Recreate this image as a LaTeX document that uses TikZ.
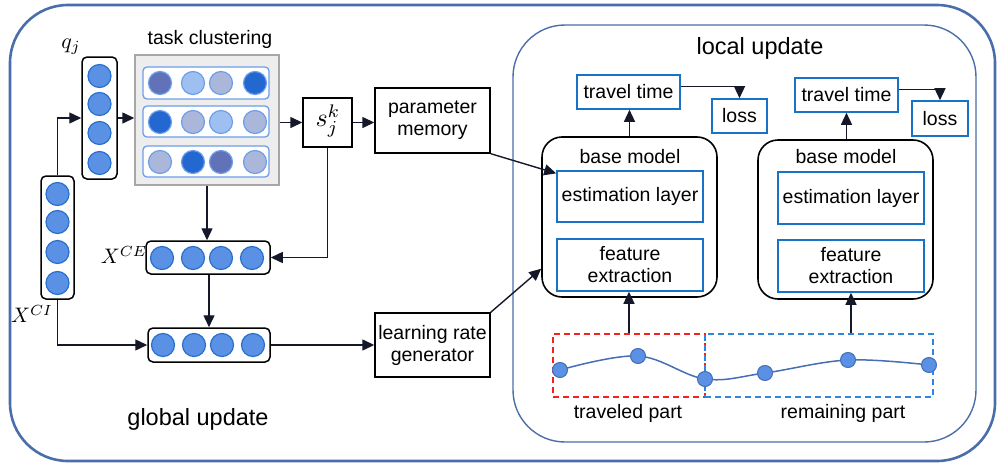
\documentclass[tikz,border=0pt]{standalone}
\usepackage{fontspec}
\setmainfont{Liberation Sans}
\usetikzlibrary{arrows.meta,calc}
\definecolor{frameblue}{RGB}{74,110,170}
\definecolor{boxblue}{RGB}{24,114,200}
\definecolor{dotfill}{RGB}{90,145,228}
\definecolor{dotdraw}{RGB}{40,112,205}
\definecolor{cslate}{RGB}{98,114,184}
\definecolor{clight}{RGB}{158,192,240}
\definecolor{clav}{RGB}{170,182,218}
\definecolor{cstrong}{RGB}{35,103,209}
\definecolor{cring}{RGB}{109,158,235}
\definecolor{arrowink}{RGB}{20,24,40}
\definecolor{trajred}{RGB}{250,30,30}
\definecolor{trajblue}{RGB}{46,134,222}
\definecolor{curveblue}{RGB}{70,110,180}
\tikzset{
  every node/.style={font=\fontsize{19.5}{22}\selectfont},
  bigtext/.style={font=\fontsize{23.5}{26}\selectfont},
  arr/.style={draw=arrowink, line width=1.4pt, -{Triangle[length=12pt,width=11pt]}},
  plainbox/.style={draw=black, line width=1.4pt, inner sep=0pt, align=center},
  bluebox/.style={draw=boxblue, line width=1.6pt, inner sep=0pt, align=center},
  vecbox/.style={draw=black, line width=1.5pt, rounded corners=5pt, inner sep=0pt},
  modelbox/.style={draw=black, line width=1.6pt, rounded corners=20pt, inner sep=0pt},
  rowbox/.style={draw=cring, fill=white, line width=1.3pt, rounded corners=4pt, inner sep=0pt},
  dot/.style={circle, minimum size=23pt, inner sep=0pt, fill=dotfill, draw=dotdraw, line width=1.2pt},
  cdot/.style={circle, minimum size=23pt, inner sep=0pt, fill=#1, draw=cring, line width=1.2pt},
  tdot/.style={circle, minimum size=15pt, inner sep=0pt, fill=dotfill, draw=curveblue, line width=1pt},
  mathlab/.style={inner sep=0.5pt, font=\fontsize{10}{12}\selectfont, scale=#1}
}
\begin{document}
\begin{tikzpicture}[x=1pt,y=-1pt]
\useasboundingbox (0,0) rectangle (997,466);

% outer frame and local-update frame
\draw[frameblue, line width=2.6pt, rounded corners=58pt] (10,5) rectangle (995,461);
\draw[frameblue, line width=1.4pt, rounded corners=52pt] (513,25) rectangle (976,442);
\node[bigtext] (lu) at (760,48) {local update};
\node[bigtext] (gu) at (198,419) {global update};

% query vector q_j
\node[vecbox, minimum width=35pt, minimum height=122pt] (qj) at (99.5,118) {};
\foreach \i/\y in {1/76,2/104,3/133,4/163} \node[dot] (q\i) at (99.5,\y) {};
\node[mathlab=2.2] (qlab) at (71,47) {$q_j$};

% input vector X^{CI}
\node[vecbox, minimum width=33pt, minimum height=123pt] (xci) at (57.5,237.5) {};
\foreach \i/\y in {1/194,2/222,3/252,4/283} \node[dot] (ci\i) at (57.5,\y) {};
\node[mathlab=2.1] (cilab) at (32,314) {$X^{CI}$};

% task clustering
\node[draw=gray!70, fill=gray!14, line width=1.4pt, minimum width=144pt, minimum height=130pt, inner sep=0pt] (tc) at (207,120) {};
\node (tclab) at (210,39) {task clustering};
\node[rowbox, minimum width=126pt, minimum height=32pt] (r1) at (206,83) {};
\node[rowbox, minimum width=126pt, minimum height=31pt] (r2) at (206,121.5) {};
\node[rowbox, minimum width=126pt, minimum height=31pt] (r3) at (206,161.5) {};
\foreach \x/\c [count=\k] in {160/cslate,193/clight,221/clav,255/cstrong} \node[cdot=\c] (a\k) at (\x,83) {};
\foreach \x/\c [count=\k] in {160/cstrong,193/clav,221/clight,255/clav} \node[cdot=\c] (b\k) at (\x,122) {};
\foreach \x/\c [count=\k] in {160/clav,193/cstrong,221/cslate,255/clav} \node[cdot=\c] (c\k) at (\x,162) {};

% cluster assignment and parameter memory
\node[plainbox, minimum width=49pt, minimum height=49pt] (s) at (327.5,122.5) {};
\node[mathlab=2.6] (slab) at (328,121) {$s_j^k$};
\node[plainbox, minimum width=115pt, minimum height=65pt] (pm) at (432.5,120.5) {parameter\\memory};

% enhanced vector X^{CE}
\node[vecbox, minimum width=124pt, minimum height=33pt] (xce) at (208,257.5) {};
\foreach \x [count=\k] in {162,193,221,252} \node[dot] (e\k) at (\x,258) {};
\node[mathlab=2.1] (celab) at (124,255) {$X^{CE}$};

% combined vector
\node[vecbox, minimum width=122pt, minimum height=34pt] (cmb) at (209,345) {};
\foreach \x [count=\k] in {163,194,222,253} \node[dot] (m\k) at (\x,345) {};

\node[plainbox, minimum width=115pt, minimum height=64pt] (lrg) at (432.5,345) {learning rate\\generator};

% base models
\node[modelbox, minimum width=175pt, minimum height=160pt] (bm1) at (629.5,217) {};
\node (bm1lab) at (630,157) {base model};
\node[bluebox, minimum width=146pt, minimum height=51pt] (el1) at (630,196.5) {estimation layer};
\node[bluebox, minimum width=146pt, minimum height=52pt] (fe1) at (630,265) {feature\\extraction};
\node[bluebox, minimum width=103pt, minimum height=34pt] (tt1) at (628.5,92) {travel time};
\node[bluebox, minimum width=55pt, minimum height=34pt] (loss1) at (739.5,116) {loss};

\node[modelbox, minimum width=175pt, minimum height=159pt] (bm2) at (845.5,219.5) {};
\node (bm2lab) at (846,157) {base model};
\node[bluebox, minimum width=146pt, minimum height=52pt] (el2) at (851,198) {estimation layer};
\node[bluebox, minimum width=146pt, minimum height=52pt] (fe2) at (851,266) {feature\\extraction};
\node[bluebox, minimum width=103pt, minimum height=34pt] (tt2) at (846.5,95) {travel time};
\node[bluebox, minimum width=56pt, minimum height=35pt] (loss2) at (940,118.5) {loss};

% trajectory split into traveled and remaining parts
\node[draw=trajred, dashed, dash pattern=on 6pt off 4pt, line width=1.4pt, minimum width=152pt, minimum height=63pt, inner sep=0pt] (trav) at (629,365.5) {};
\node[draw=trajblue, dashed, dash pattern=on 6pt off 4pt, line width=1.4pt, minimum width=228pt, minimum height=63pt, inner sep=0pt] (rem) at (819,365.5) {};
\coordinate (p1) at (560,370);
\coordinate (p2) at (638,356);
\coordinate (p3) at (705,379);
\coordinate (p4) at (765,373);
\coordinate (p5) at (848,360);
\coordinate (p6) at (929,365);
\draw[curveblue, line width=1.5pt] plot[smooth, tension=0.6] coordinates {(p1) (p2) (p3) (p4) (p5) (p6)};
\foreach \p in {p1,p2,p3,p4,p5,p6} \node[tdot] (d\p) at (\p) {};
\node (tplab) at (628,413) {traveled part};
\node (rplab) at (843,413) {remaining part};

% connectors
\draw[arr] (xci.north) |- (qj.west);
\draw[arr] (qj.east) -- (qj.east -| tc.west);
\draw[arr] (tc.east |- s.west) -- (s.west);
\draw[arr] (s.east) -- (s.east -| pm.west);
\draw[arr] (s.south) |- (xce.east);
\draw[arr] (tc.south) -- (tc.south |- xce.north);
\draw[arr] (xce.south -| cmb.north) -- (cmb.north);
\draw[arr] (xci.south) |- (cmb.west);
\draw[arr] (cmb.east) -- (cmb.east -| lrg.west);
\draw[arr] (pm.south east) -- ($(el1.north west)!0.06!(el1.south west)$);
\draw[arr] (lrg.north east) -- ($(bm1.north west)!0.82!(bm1.south west)$);
\draw[arr] (bm1.north) -- (bm1.north |- tt1.south);
\draw[arr] (bm2.north -| tt2.south) -- (tt2.south);
\draw[arr] ($(tt1.north east)!0.35!(tt1.south east)$) -| (loss1.north);
\draw[arr] ($(tt2.north east)!0.35!(tt2.south east)$) -| (loss2.north);
\draw[arr] (trav.north) -- (trav.north |- fe1.south);
\draw[arr] (fe2.south |- rem.north) -- (fe2.south);
\end{tikzpicture}
\end{document}
